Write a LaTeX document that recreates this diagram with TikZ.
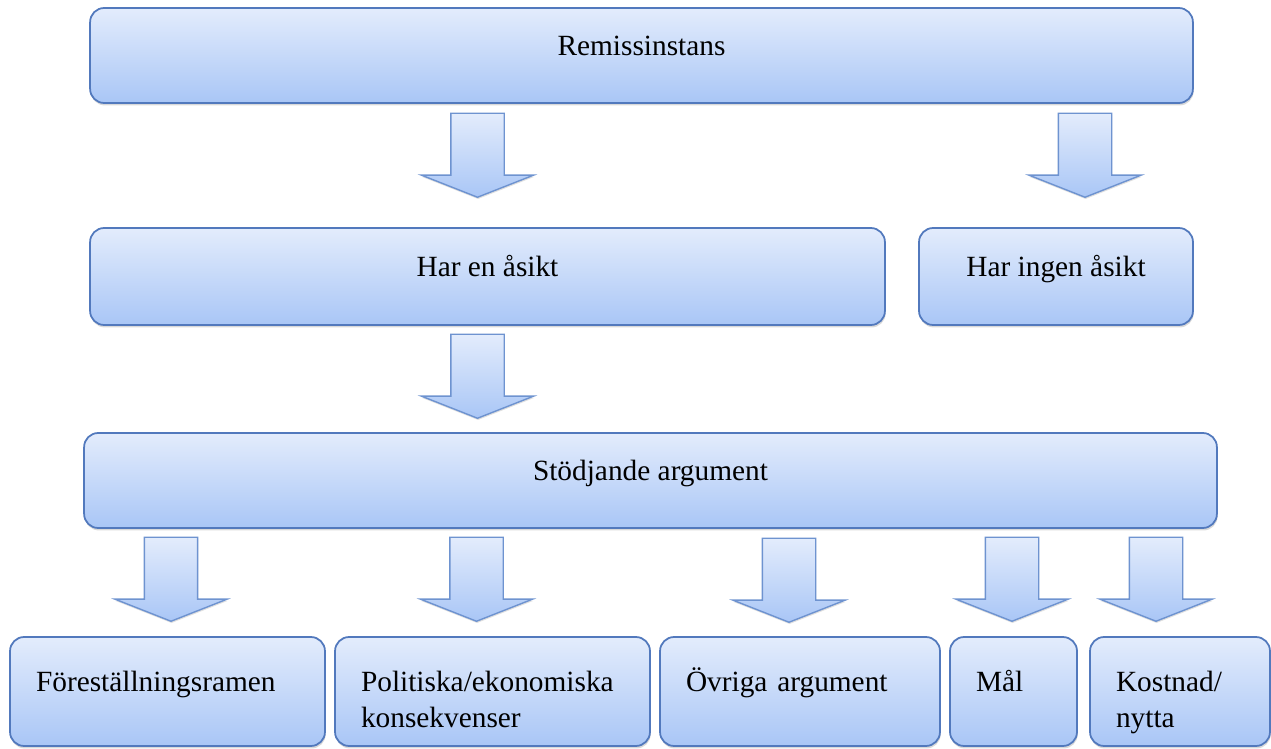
\documentclass[tikz,border=0pt]{standalone}
\usepackage{fontspec}
\setmainfont{Liberation Serif}
\usepackage{tikz}
\usetikzlibrary{shapes.arrows,shadows}
\definecolor{BoxTop}{HTML}{E3ECFC}
\definecolor{BoxBottom}{HTML}{A9C6F6}
\definecolor{BoxLine}{HTML}{5279BD}
\definecolor{ArrowLine}{HTML}{6E93D0}

\begin{document}
\begin{tikzpicture}[x=0.02cm, y=-0.02cm,
    box/.style={draw=BoxLine, line width=1pt, rounded corners=8pt,
                top color=BoxTop, bottom color=BoxBottom, align=center,
                font=\fontsize{16.7}{20.4}\selectfont,
                text height=12pt, text depth=12pt, inner ysep=2pt,
                drop shadow={shadow xshift=0.4pt, shadow yshift=-1.4pt,
                             opacity=0.3}},
    leaf/.style={box, align=left, inner xsep=0.52cm, minimum height=2.18cm},
    blockarrow/.style={single arrow, shape border rotate=270, anchor=tip,
                draw=ArrowLine, line width=0.8pt,
                top color=BoxTop, bottom color=BoxBottom,
                inner sep=0.52cm, minimum height=1.68cm, minimum width=2.22cm,
                single arrow head extend=0.59cm, single arrow tip angle=137,
                drop shadow={shadow xshift=0.3pt, shadow yshift=-1pt,
                             opacity=0.25}}
]
\useasboundingbox (0,0) rectangle (1271,749);

% top level
\node[box, minimum width=22.06cm, minimum height=1.9cm] (remiss)
    at (641.5,55.5) {Remissinstans};
\node[box, minimum width=15.9cm, minimum height=1.94cm] (asikt)
    at (487.5,276.5) {Har en åsikt};
\node[box, minimum width=5.48cm, minimum height=1.94cm] (ingen)
    at (1056,276.5) {Har ingen åsikt};
\node[box, minimum width=22.66cm, minimum height=1.9cm] (stod)
    at (650.5,480.5) {Stödjande argument};

% leaves
\node[leaf, minimum width=6.3cm, text width=5.26cm] (ram)
    at (167.5,691.5) {Föreställningsramen};
\node[leaf, minimum width=6.3cm, text width=5.26cm] (polit)
    at (492.5,691.5) {Politiska/ekonomiska\\konsekvenser};
\node[leaf, minimum width=5.6cm, text width=4.56cm] (ovriga)
    at (800,691.5) {Övriga argument};
\node[leaf, minimum width=2.54cm, text width=1.5cm] (mal)
    at (1013.5,691.5) {Mål};
\node[leaf, minimum width=3.6cm, text width=2.56cm] (kostnad)
    at (1180,691.5) {Kostnad/\\nytta};

% block arrows
\node[blockarrow] (a1) at (477.5,198) {};
\node[blockarrow] (a2) at (1085,198) {};
\node[blockarrow] (a3) at (477.5,419) {};
\node[blockarrow] (a4) at (171,622) {};
\node[blockarrow] (a5) at (476.5,622) {};
\node[blockarrow] (a6) at (789,623) {};
\node[blockarrow] (a7) at (1012,622) {};
\node[blockarrow] (a8) at (1156,622) {};
\end{tikzpicture}
\end{document}
